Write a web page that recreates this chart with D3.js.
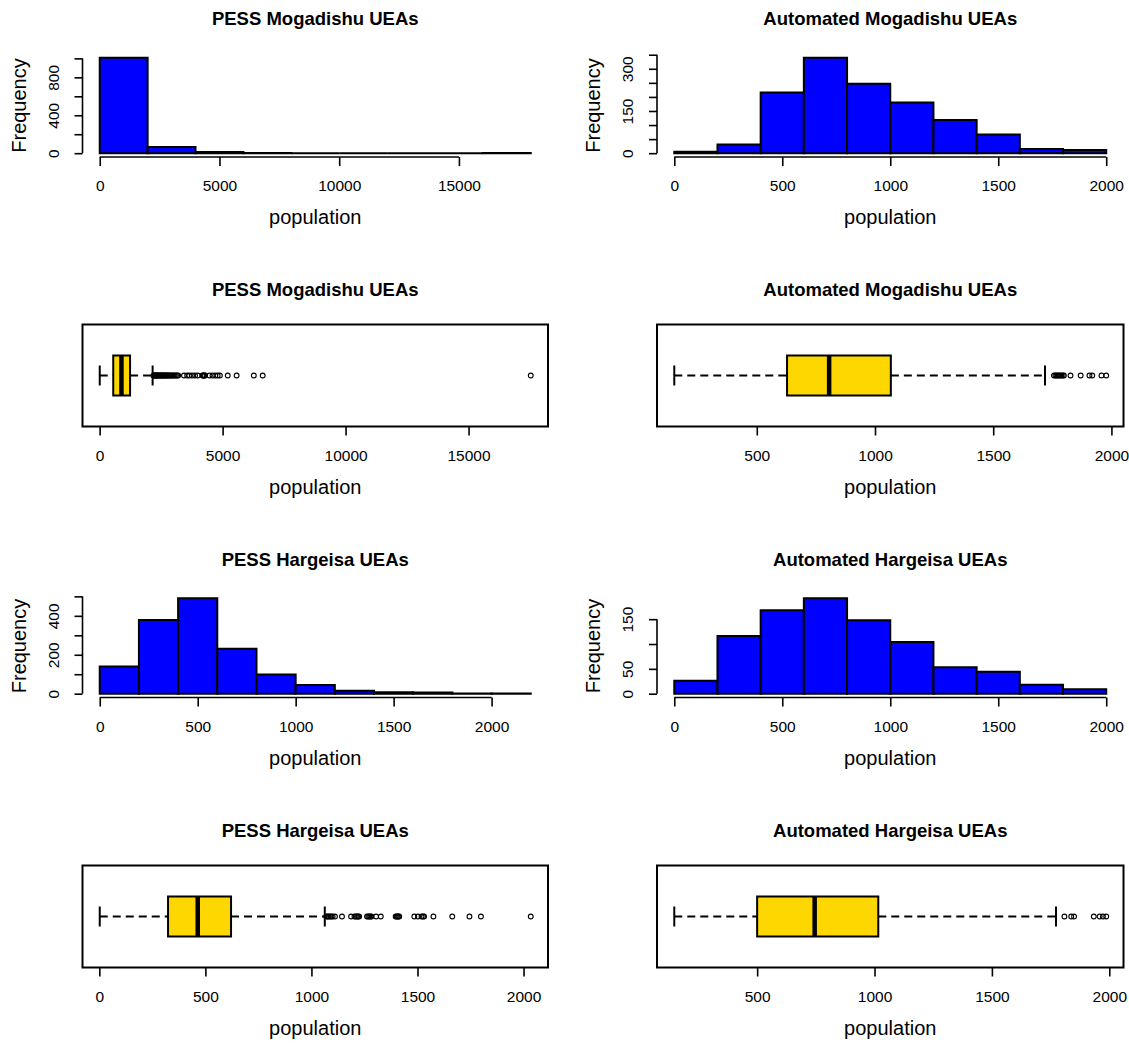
<!DOCTYPE html>
<meta charset="utf-8">
<head>
	<script type="text/javascript" src="https://cdn.jsdelivr.net/npm/d3@7"></script>
	<style>
		body { margin: 0; background: #fff; }
		svg text { font-family: "Liberation Sans", Arial, sans-serif; fill: #000; }
	</style>
</head>
<body>
<svg id="chart" width="1129" height="1044"></svg>
<script type="text/javascript">
	// titles of the 8 panels (row by row)
	var titleList = ["PESS Mogadishu UEAs", "Automated Mogadishu UEAs",
		"PESS Mogadishu UEAs", "Automated Mogadishu UEAs",
		"PESS Hargeisa UEAs", "Automated Hargeisa UEAs",
		"PESS Hargeisa UEAs", "Automated Hargeisa UEAs"];

	// histograms: bin breaks and counts
	var pessMogBreaks = [0, 2000, 4000, 6000, 8000, 10000, 12000, 14000, 16000, 18000];
	var pessMogCounts = [1006, 66, 12, 2, 0, 0, 0, 0, 1];
	var autoMogBreaks = [0, 200, 400, 600, 800, 1000, 1200, 1400, 1600, 1800, 2000];
	var autoMogCounts = [5, 31, 216, 339, 247, 180, 118, 66, 15, 11];
	var pessHargBreaks = [0, 200, 400, 600, 800, 1000, 1200, 1400, 1600, 1800, 2000, 2200];
	var pessHargCounts = [140, 378, 490, 231, 98, 45, 15, 8, 6, 1, 1];
	var autoHargBreaks = [0, 200, 400, 600, 800, 1000, 1200, 1400, 1600, 1800, 2000];
	var autoHargCounts = [26, 116, 168, 192, 148, 104, 53, 44, 18, 9];

	// boxplots: [lower whisker, Q1, median, Q3, upper whisker] and outliers
	var pessMogBox = [5, 554, 888, 1238, 2155];
	var pessMogOut = [2190, 2215, 2240, 2262, 2290, 2318, 2345, 2371, 2398, 2430, 2455, 2488, 2515, 2547,
		2580, 2606, 2640, 2668, 2702, 2735, 2770, 2804, 2843, 2880, 2921, 2966, 3010, 3055, 3102, 3150, 3195,
		3430, 3560, 3650, 3760, 3880, 3990, 4180, 4205, 4232, 4260, 4288,
		4470, 4590, 4700, 4800, 4890, 5210, 5570, 6270, 6630, 17530];
	var autoMogBox = [151, 628, 806, 1067, 1719];
	var autoMogOut = [1757, 1763, 1768, 1773, 1777, 1783, 1788, 1794, 1799, 1827, 1870, 1907, 1919, 1958, 1978];
	var pessHargBox = [2, 324, 464, 621, 1063];
	var pessHargOut = [1070, 1076, 1082, 1088, 1094, 1100, 1111, 1144, 1187, 1203, 1210, 1215, 1220, 1225,
		1262, 1268, 1273, 1278, 1283, 1305, 1327, 1397, 1402, 1406, 1410, 1414,
		1485, 1502, 1519, 1526, 1531, 1575, 1664, 1745, 1799, 2034];
	var autoHargBox = [147, 500, 745, 1016, 1773];
	var autoHargOut = [1809, 1838, 1850, 1934, 1959, 1973, 1987];

	// axis ticks and which tick labels R kept
	var xTicksBig = [0, 5000, 10000, 15000];
	var xTicks2000 = [0, 500, 1000, 1500, 2000];
	var xTicksAuto = [500, 1000, 1500, 2000];
	var yTicksPessMog = [0, 200, 400, 600, 800, 1000];
	var yLabelsPessMog = [0, 400, 800];
	var yTicksAutoMog = [0, 50, 100, 150, 200, 250, 300, 350];
	var yLabelsAutoMog = [0, 150, 300];
	var yTicksPessHarg = [0, 100, 200, 300, 400, 500];
	var yLabelsPessHarg = [0, 200, 400];
	var yTicksAutoHarg = [0, 50, 100, 150];
	var yLabelsAutoHarg = [0, 50, 150];

	// layout
	var cols = [{x0: 82.5, x1: 548}, {x0: 657, x1: 1123.5}];
	var rows = [{top: 54, bottom: 157}, {top: 324.5, bottom: 426.5},
		{top: 594.5, bottom: 697.5}, {top: 865.5, bottom: 967.5}];

	var panels = [
		{kind: "hist", row: 0, col: 0, breaks: pessMogBreaks, counts: pessMogCounts, xTicks: xTicksBig, yTicks: yTicksPessMog, yLabels: yLabelsPessMog},
		{kind: "hist", row: 0, col: 1, breaks: autoMogBreaks, counts: autoMogCounts, xTicks: xTicks2000, yTicks: yTicksAutoMog, yLabels: yLabelsAutoMog},
		{kind: "box", row: 1, col: 0, stats: pessMogBox, out: pessMogOut, xTicks: xTicksBig},
		{kind: "box", row: 1, col: 1, stats: autoMogBox, out: autoMogOut, xTicks: xTicksAuto},
		{kind: "hist", row: 2, col: 0, breaks: pessHargBreaks, counts: pessHargCounts, xTicks: xTicks2000, yTicks: yTicksPessHarg, yLabels: yLabelsPessHarg},
		{kind: "hist", row: 2, col: 1, breaks: autoHargBreaks, counts: autoHargCounts, xTicks: xTicks2000, yTicks: yTicksAutoHarg, yLabels: yLabelsAutoHarg},
		{kind: "box", row: 3, col: 0, stats: pessHargBox, out: pessHargOut, xTicks: xTicks2000},
		{kind: "box", row: 3, col: 1, stats: autoHargBox, out: autoHargOut, xTicks: xTicksAuto}
	];

	var svg = d3.select("#chart");
	var lw = 2;

	panels.forEach(function(p, i) {
		var L = {x0: cols[p.col].x0, x1: cols[p.col].x1, top: rows[p.row].top, bottom: rows[p.row].bottom};
		var g = svg.append("g");
		var cx = (L.x0 + L.x1) / 2;

		g.append("text").attr("x", cx).attr("y", L.top - 29)
			.attr("text-anchor", "middle").style("font-size", "18.5px").style("font-weight", "bold")
			.text(titleList[i]);
		g.append("text").attr("x", cx).attr("y", L.bottom + 67)
			.attr("text-anchor", "middle").style("font-size", "20px")
			.text("population");

		var x;
		if (p.kind == "hist") {
			var b0 = p.breaks[0], b1 = p.breaks[p.breaks.length - 1];
			x = d3.scaleLinear().domain([b0 - 0.04 * (b1 - b0), b1 + 0.04 * (b1 - b0)]).range([L.x0, L.x1]);
			var M = d3.max(p.counts);
			var y = d3.scaleLinear().domain([-0.04 * M, 1.04 * M]).range([L.bottom, L.top]);

			g.selectAll("path.bar").data(p.counts).enter().append("path")
				.attr("class", "bar")
				.attr("d", function(d, k) {
					var xa = x(p.breaks[k]), xb = x(p.breaks[k + 1]);
					return "M" + xa + "," + y(0) + "H" + xb + "V" + y(d) + "H" + xa + "Z";
				})
				.attr("fill", "#0000ff").attr("stroke", "#000").attr("stroke-width", lw);

			// y axis
			var ya = g.append("g").attr("transform", "translate(" + L.x0 + ",0)")
				.call(d3.axisLeft(y).tickValues(p.yTicks).tickSize(8)
					.tickFormat(function(d) { return p.yLabels.indexOf(d) >= 0 ? d : ""; }));
			ya.select(".domain").remove();
			ya.selectAll("line").attr("stroke-width", 1.6);
			ya.selectAll("text").attr("x", 0).attr("y", -24).attr("dy", 0)
				.attr("transform", "rotate(-90)").style("text-anchor", "middle")
				.style("font-size", "15.5px").attr("fill", "#000");
			g.append("line").attr("x1", L.x0).attr("x2", L.x0)
				.attr("y1", y(p.yTicks[0])).attr("y2", y(p.yTicks[p.yTicks.length - 1]))
				.attr("stroke", "#000").attr("stroke-width", 1.6);

			g.append("text").attr("transform", "translate(" + (L.x0 - 57) + "," + ((L.top + L.bottom) / 2) + ") rotate(-90)")
				.attr("text-anchor", "middle").style("font-size", "20px").text("Frequency");

			g.append("line").attr("x1", x(p.xTicks[0])).attr("x2", x(p.xTicks[p.xTicks.length - 1]))
				.attr("y1", L.bottom).attr("y2", L.bottom)
				.attr("stroke", "#000").attr("stroke-width", 1.6);
		} else {
			var lo = Math.min(p.stats[0], d3.min(p.out)), hi = Math.max(p.stats[4], d3.max(p.out));
			x = d3.scaleLinear().domain([lo - 0.04 * (hi - lo), hi + 0.04 * (hi - lo)]).range([L.x0, L.x1]);
			var cy = (L.top + L.bottom) / 2;
			var bh = 20, sh = 10;
			var s = p.stats;

			g.append("line").attr("x1", x(s[0])).attr("x2", x(s[1])).attr("y1", cy).attr("y2", cy)
				.attr("stroke", "#000").attr("stroke-width", lw).attr("stroke-dasharray", "8,5");
			g.append("line").attr("x1", x(s[3])).attr("x2", x(s[4])).attr("y1", cy).attr("y2", cy)
				.attr("stroke", "#000").attr("stroke-width", lw).attr("stroke-dasharray", "8,5");
			[s[0], s[4]].forEach(function(v) {
				g.append("line").attr("x1", x(v)).attr("x2", x(v)).attr("y1", cy - sh).attr("y2", cy + sh)
					.attr("stroke", "#000").attr("stroke-width", lw);
			});
			g.append("rect").attr("x", x(s[1])).attr("y", cy - bh)
				.attr("width", x(s[3]) - x(s[1])).attr("height", 2 * bh)
				.attr("fill", "#ffd700").attr("stroke", "#000").attr("stroke-width", lw);
			g.append("line").attr("x1", x(s[2])).attr("x2", x(s[2])).attr("y1", cy - bh).attr("y2", cy + bh)
				.attr("stroke", "#000").attr("stroke-width", 4.5);
			g.selectAll("circle").data(p.out).enter().append("circle")
				.attr("cx", function(d) { return x(d); }).attr("cy", cy).attr("r", 2.4)
				.attr("fill", "none").attr("stroke", "#000").attr("stroke-width", 1.1);

			g.append("rect").attr("x", L.x0).attr("y", L.top)
				.attr("width", L.x1 - L.x0).attr("height", L.bottom - L.top)
				.attr("fill", "none").attr("stroke", "#000").attr("stroke-width", lw);
		}

		// x axis ticks and labels
		var xa = g.append("g").attr("transform", "translate(0," + L.bottom + ")")
			.call(d3.axisBottom(x).tickValues(p.xTicks).tickSize(9).tickFormat(d3.format("d")));
		xa.select(".domain").remove();
		xa.selectAll("line").attr("stroke-width", 1.6);
		xa.selectAll("text").attr("y", 34).attr("dy", 0)
			.style("font-size", "15.5px").attr("fill", "#000");
	});
</script>
</body>
